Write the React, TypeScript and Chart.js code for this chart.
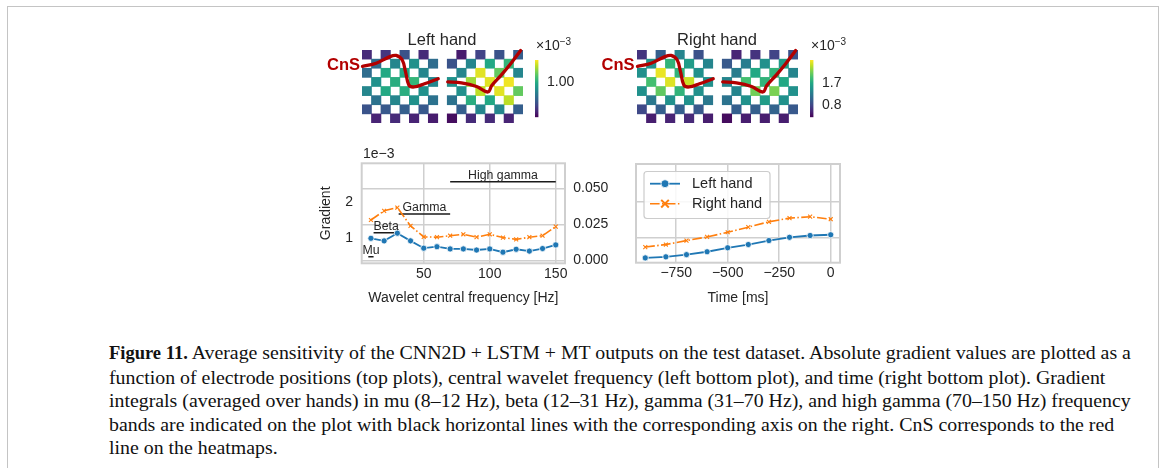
import React, { useEffect, useRef } from 'react';
import { Chart, registerables } from 'chart.js';

Chart.register(...registerables);

const SANS = '"Liberation Sans", Arial, Helvetica, sans-serif';
const SERIF = '"Liberation Serif", "Times New Roman", serif';
const INK = '#262626';
const GRID = '#cfcfcf';
const BLUE = '#1f77b4';
const ORANGE = '#ff7f0e';
const CNS_RED = '#b20000';

// ---------- heatmaps: gradient (x10^-3), 8 rows x 4 electrodes per implant (checkerboard) ----------
const LEFT_HAND_IMPLANT_A = [
  [0.56, 0.59, 0.68, 0.56],
  [0.77, 0.86, 0.9, 0.77],
  [0.77, 0.99, 0.99, 0.86],
  [0.9, 1.01, 1.04, 0.86],
  [0.86, 0.99, 1.01, 0.9],
  [0.79, 0.86, 0.9, 0.79],
  [0.68, 0.7, 0.72, 0.7],
  [0.54, 0.56, 0.54, 0.52],
];
const LEFT_HAND_IMPLANT_B = [
  [0.52, 0.63, 0.68, 0.72],
  [0.68, 0.86, 0.99, 1.04],
  [0.86, 1.31, 1.13, 0.86],
  [0.9, 1.22, 1.31, 1.33],
  [0.9, 1.26, 1.31, 1.13],
  [0.79, 1.01, 0.99, 1.26],
  [0.72, 0.86, 0.86, 0.72],
  [0.48, 0.56, 0.56, 0.54],
];
const RIGHT_HAND_IMPLANT_A = [
  [0.66, 1.01, 1.36, 0.89],
  [1.48, 1.82, 1.59, 1.36],
  [1.48, 2.57, 1.82, 1.48],
  [1.94, 2.52, 2.45, 1.48],
  [1.48, 2.06, 1.82, 1.48],
  [1.24, 1.48, 1.48, 1.24],
  [0.82, 1.01, 1.01, 0.96],
  [0.5, 0.54, 0.59, 0.5],
];
const RIGHT_HAND_IMPLANT_B = [
  [0.54, 0.66, 0.78, 0.89],
  [0.96, 1.29, 1.48, 1.59],
  [1.29, 1.71, 1.82, 1.36],
  [1.36, 1.94, 1.82, 1.71],
  [1.36, 2.13, 2.17, 1.48],
  [1.2, 1.48, 1.59, 1.48],
  [1.01, 1.01, 1.06, 0.96],
  [0.38, 0.5, 0.5, 0.5],
];
const LEFT_HAND_RANGE = [0.45, 1.35];
const RIGHT_HAND_RANGE = [0.31, 2.64];
const LEFT_HAND_CBAR_TICKS = [1.0];
const RIGHT_HAND_CBAR_TICKS = [0.8, 1.7];

// central sulcus (CnS) path, in electrode-grid units
const CNS_A_X = [0.05, 1.5, 2.9, 3.6, 4.25, 4.6, 4.95, 5.5, 6.6, 8.05];
const CNS_A_Y = [1.8, 1.45, 0.75, 0.6, 1.1, 2.4, 3.85, 4.05, 3.7, 3.15];
const CNS_B_X = [9.05, 10.5, 12.1, 13.3, 13.7, 14.7, 15.7, 16.75];
const CNS_B_Y = [3.5, 3.6, 4.0, 4.6, 3.9, 2.75, 1.5, 0.05];

// ---------- gradient vs wavelet central frequency (x10^-3) ----------
const FREQS = [10, 20, 30, 40, 50, 60, 70, 80, 90, 100, 110, 120, 130, 140, 150];
const FREQ_LEFT_HAND = [1.0, 0.93, 1.14, 0.93, 0.73, 0.77, 0.71, 0.71, 0.68, 0.71, 0.62, 0.7, 0.65, 0.72, 0.82];
const FREQ_RIGHT_HAND = [1.5, 1.75, 1.84, 1.34, 1.04, 1.03, 1.07, 1.11, 1.03, 1.11, 1.02, 0.97, 1.03, 1.07, 1.32];

// frequency-band integrals (right axis)
const BAND_NAMES = ['Mu', 'Beta', 'Gamma', 'High gamma'];
const BAND_FROM = [8, 12, 31, 70];
const BAND_TO = [12, 31, 70, 150];
const BAND_VALUES = [0.0025, 0.0192, 0.0322, 0.0546];

// ---------- gradient vs time (x10^-3) ----------
const TIMES = [-900, -800, -700, -600, -500, -400, -300, -200, -100, 0];
const TIME_LEFT_HAND = [0.45, 0.48, 0.54, 0.62, 0.73, 0.82, 0.93, 1.02, 1.07, 1.09];
const TIME_RIGHT_HAND = [0.75, 0.82, 0.93, 1.03, 1.16, 1.3, 1.45, 1.55, 1.59, 1.52];

// ---------- ticks ----------
const FREQ_TICKS = [50, 100, 150];
const TIME_TICKS = [-750, -500, -250, 0];
const GRADIENT_TICKS = [1, 2];
const BAND_AXIS_TICKS = [0, 0.025, 0.05];

const CAPTION_LINES = [
  ' Average sensitivity of the CNN2D + LSTM + MT outputs on the test dataset. Absolute gradient values are plotted as a',
  'function of electrode positions (top plots), central wavelet frequency (left bottom plot), and time (right bottom plot). Gradient',
  'integrals (averaged over hands) in mu (8–12 Hz), beta (12–31 Hz), gamma (31–70 Hz), and high gamma (70–150 Hz) frequency',
  'bands are indicated on the plot with black horizontal lines with the corresponding axis on the right. CnS corresponds to the red',
  'line on the heatmaps.',
];

const VIRIDIS = ['#440154', '#482475', '#414487', '#355f8d', '#2a788e', '#21918c', '#22a884', '#44bf70', '#7ad151', '#bddf26', '#fde725'];

function hexToRgb(h: string) {
  return [parseInt(h.slice(1, 3), 16), parseInt(h.slice(3, 5), 16), parseInt(h.slice(5, 7), 16)];
}
function viridis(t: number) {
  const c = Math.max(0, Math.min(1, t)) * 10;
  const i = Math.min(9, Math.floor(c));
  const f = c - i;
  const a = hexToRgb(VIRIDIS[i]);
  const b = hexToRgb(VIRIDIS[i + 1]);
  const m = a.map((v, k) => Math.round(v + (b[k] - v) * f));
  return `rgb(${m[0]},${m[1]},${m[2]})`;
}

const minus = (v: number) => (v < 0 ? '\u2212' + Math.abs(v) : String(v));

const framePlugin = {
  id: 'frame',
  beforeDatasetsDraw(chart: any) {
    const { ctx, chartArea: a } = chart;
    ctx.save();
    ctx.strokeStyle = GRID;
    ctx.lineWidth = 2;
    ctx.strokeRect(a.left, a.top, a.right - a.left, a.bottom - a.top);
    ctx.restore();
  },
};

const bandLabelPlugin = {
  id: 'bandLabels',
  afterDatasetsDraw(chart: any) {
    const { ctx } = chart;
    const xs = chart.scales.x;
    const ys = chart.scales.y2;
    ctx.save();
    ctx.font = `12.3px ${SANS}`;
    ctx.fillStyle = INK;
    ctx.textAlign = 'center';
    ctx.textBaseline = 'alphabetic';
    BAND_NAMES.forEach((name, i) => {
      const cx = xs.getPixelForValue((BAND_FROM[i] + BAND_TO[i]) / 2);
      const y = ys.getPixelForValue(BAND_VALUES[i]);
      ctx.fillText(name, cx, y - 2.5);
    });
    ctx.restore();
  },
};

function drawMarker(ctx: any, ds: any, x: number, y: number, r: number) {
  ctx.save();
  if (ds.pointStyle === 'crossRot') {
    ctx.strokeStyle = ds.borderColor;
    ctx.lineWidth = 2;
    ctx.beginPath();
    ctx.moveTo(x - r, y - r);
    ctx.lineTo(x + r, y + r);
    ctx.moveTo(x - r, y + r);
    ctx.lineTo(x + r, y - r);
    ctx.stroke();
  } else {
    ctx.fillStyle = ds.borderColor;
    ctx.strokeStyle = '#ffffff';
    ctx.lineWidth = 0.8;
    ctx.beginPath();
    ctx.arc(x, y, r, 0, Math.PI * 2);
    ctx.fill();
    ctx.stroke();
  }
  ctx.restore();
}

const insideLegendPlugin = {
  id: 'insideLegend',
  afterDraw(chart: any) {
    const { ctx, chartArea: a } = chart;
    const x0 = a.left + 8;
    const y0 = a.top + 7.5;
    const w = 126;
    const h = 47;
    ctx.save();
    ctx.beginPath();
    if (ctx.roundRect) ctx.roundRect(x0, y0, w, h, 3);
    else ctx.rect(x0, y0, w, h);
    ctx.fillStyle = 'rgba(255,255,255,0.85)';
    ctx.fill();
    ctx.strokeStyle = '#cccccc';
    ctx.lineWidth = 1.2;
    ctx.stroke();
    chart.data.datasets.forEach((ds: any, i: number) => {
      const y = y0 + 12.2 + i * 20;
      ctx.setLineDash(ds.borderDash || []);
      ctx.strokeStyle = ds.borderColor;
      ctx.lineWidth = ds.borderWidth;
      ctx.beginPath();
      ctx.moveTo(x0 + 6, y);
      ctx.lineTo(x0 + 36, y);
      ctx.stroke();
      ctx.setLineDash([]);
      drawMarker(ctx, ds, x0 + 21, y, ds.pointStyle === 'crossRot' ? 3.8 : 4);
      ctx.fillStyle = INK;
      ctx.font = `14.5px ${SANS}`;
      ctx.textBaseline = 'middle';
      ctx.textAlign = 'left';
      ctx.fillText(ds.label, x0 + 48, y);
    });
    ctx.restore();
  },
};

function heatmapConfig(gridA: number[][], gridB: number[][], range: number[], padding: any) {
  const cellX: number[] = [];
  const cellRow: number[] = [];
  const colors: string[] = [];
  const add = (grid: number[][], offset: number, parity: number) =>
    grid.forEach((row, r) =>
      row.forEach((v, k) => {
        const c = 2 * k + ((r + parity) % 2);
        cellX.push(offset + c + 0.5);
        cellRow.push(r);
        colors.push(viridis((v - range[0]) / (range[1] - range[0])));
      })
    );
  add(gridA, 0, 0);
  add(gridB, 9, 1);
  const line = (xs: number[], ys: number[]) => ({
    type: 'line',
    data: xs.map((x, i) => ({ x, y: ys[i] })),
    borderColor: CNS_RED,
    borderWidth: 3.3,
    pointRadius: 0,
    tension: 0.35,
    clip: false,
    order: 1,
    borderCapStyle: 'round',
  });
  return {
    type: 'bar',
    data: {
      datasets: [
        {
          type: 'bar',
          data: cellX.map((x, i) => ({ x, y: [cellRow[i], cellRow[i] + 1] })),
          backgroundColor: colors,
          borderWidth: 0,
          barPercentage: 1,
          categoryPercentage: 1,
          order: 2,
        },
        line(CNS_A_X, CNS_A_Y),
        line(CNS_B_X, CNS_B_Y),
      ],
    },
    options: {
      responsive: false,
      animation: false,
      devicePixelRatio: 1,
      layout: { padding },
      plugins: { legend: { display: false }, tooltip: { enabled: false }, title: { display: false } },
      scales: {
        x: { type: 'linear', min: 0, max: 17, offset: false, display: false, ticks: { stepSize: 1 } },
        y: { type: 'linear', min: 0, max: 8, reverse: true, display: false },
      },
    },
  };
}

function colorbarConfig(range: number[], ticks: number[], decimals: number) {
  return {
    type: 'bar',
    data: {
      labels: [''],
      datasets: [
        {
          data: [[range[0], range[1]]],
          backgroundColor: (c: any) => {
            const a = c.chart.chartArea;
            if (!a) return VIRIDIS[5];
            const g = c.chart.ctx.createLinearGradient(0, a.bottom, 0, a.top);
            VIRIDIS.forEach((col, i) => g.addColorStop(i / 10, col));
            return g;
          },
          borderWidth: 0,
          barPercentage: 1,
          categoryPercentage: 1,
        },
      ],
    },
    options: {
      responsive: false,
      animation: false,
      devicePixelRatio: 1,
      layout: { padding: { left: 5, top: 5, right: 0, bottom: 5.7 } },
      plugins: { legend: { display: false }, tooltip: { enabled: false } },
      scales: {
        x: { display: false },
        y: {
          position: 'right',
          min: range[0],
          max: range[1],
          grid: { display: false, drawTicks: false },
          border: { display: false },
          ticks: {
            padding: 8.5,
            color: INK,
            font: { family: SANS, size: 14 },
            callback: (v: number) => v.toFixed(decimals),
          },
          afterBuildTicks: (s: any) => {
            s.ticks = ticks.map((v) => ({ value: v }));
          },
          afterFit: (s: any) => {
            s.width = 51.5;
            s.paddingTop = 0;
            s.paddingBottom = 0;
          },
        },
      },
    },
  };
}

const tickFont = { family: SANS, size: 14 };
const titleFont = { family: SANS, size: 14 };

function frequencyConfig() {
  const bands = BAND_NAMES.map((name, i) => ({
    type: 'line',
    label: name,
    data: [
      { x: BAND_FROM[i], y: BAND_VALUES[i] },
      { x: BAND_TO[i], y: BAND_VALUES[i] },
    ],
    yAxisID: 'y2',
    borderColor: '#1a1a1a',
    borderWidth: 1.5,
    pointRadius: 0,
  }));
  return {
    type: 'line',
    data: {
      datasets: [
        {
          label: 'Left hand',
          data: FREQS.map((x, i) => ({ x, y: FREQ_LEFT_HAND[i] })),
          yAxisID: 'y',
          borderColor: BLUE,
          backgroundColor: BLUE,
          borderWidth: 1.8,
          pointRadius: 3.1,
          pointBackgroundColor: BLUE,
          pointBorderColor: '#ffffff',
          pointBorderWidth: 0.8,
        },
        {
          label: 'Right hand',
          data: FREQS.map((x, i) => ({ x, y: FREQ_RIGHT_HAND[i] })),
          yAxisID: 'y',
          borderColor: ORANGE,
          backgroundColor: ORANGE,
          borderWidth: 1.6,
          borderDash: [9.6, 2.4, 1.5, 2.4],
          pointStyle: 'crossRot',
          pointRadius: 2.8,
          pointBorderColor: ORANGE,
          pointBorderWidth: 1.1,
        },
        ...bands,
      ],
    },
    plugins: [framePlugin, bandLabelPlugin],
    options: {
      responsive: false,
      animation: false,
      devicePixelRatio: 1,
      layout: { padding: { left: 0, right: 0, top: 23.3, bottom: 0 } },
      plugins: { legend: { display: false }, tooltip: { enabled: false } },
      scales: {
        x: {
          type: 'linear',
          min: 3,
          max: 157,
          grid: { color: GRID, lineWidth: 1.5, drawTicks: false },
          border: { display: false },
          ticks: { padding: 2.3, color: INK, font: tickFont, callback: (v: number) => minus(v) },
          afterBuildTicks: (s: any) => {
            s.ticks = FREQ_TICKS.map((v) => ({ value: v }));
          },
          title: { display: true, text: 'Wavelet central frequency [Hz]', color: INK, font: titleFont, padding: { top: 0, bottom: 3.6 } },
          afterFit: (s: any) => {
            s.height = 46.7;
          },
        },
        y: {
          type: 'linear',
          position: 'left',
          min: 0.317,
          max: 3.049,
          grid: { display: false, drawTicks: false },
          border: { display: false },
          ticks: { padding: 8.7, color: INK, font: tickFont },
          afterBuildTicks: (s: any) => {
            s.ticks = GRADIENT_TICKS.map((v) => ({ value: v }));
          },
          title: { display: true, text: 'Gradient', color: INK, font: titleFont, padding: { top: 18.1, bottom: 0 } },
          afterFit: (s: any) => {
            s.width = 61.7;
          },
        },
        y2: {
          type: 'linear',
          position: 'right',
          min: -0.0021,
          max: 0.0674,
          grid: { color: GRID, lineWidth: 1.5, drawTicks: false },
          border: { display: false },
          ticks: { padding: 8.3, color: INK, font: tickFont, callback: (v: number) => v.toFixed(3) },
          afterBuildTicks: (s: any) => {
            s.ticks = BAND_AXIS_TICKS.map((v) => ({ value: v }));
          },
          afterFit: (s: any) => {
            s.width = 65;
          },
        },
      },
    },
  };
}

function timeConfig() {
  return {
    type: 'line',
    data: {
      datasets: [
        {
          label: 'Left hand',
          data: TIMES.map((x, i) => ({ x, y: TIME_LEFT_HAND[i] })),
          borderColor: BLUE,
          backgroundColor: BLUE,
          borderWidth: 1.8,
          pointRadius: 3.1,
          pointBackgroundColor: BLUE,
          pointBorderColor: '#ffffff',
          pointBorderWidth: 0.8,
        },
        {
          label: 'Right hand',
          data: TIMES.map((x, i) => ({ x, y: TIME_RIGHT_HAND[i] })),
          borderColor: ORANGE,
          backgroundColor: ORANGE,
          borderWidth: 1.6,
          borderDash: [9.6, 2.4, 1.5, 2.4],
          pointStyle: 'crossRot',
          pointRadius: 2.8,
          pointBorderColor: ORANGE,
          pointBorderWidth: 1.1,
        },
      ],
    },
    plugins: [framePlugin, insideLegendPlugin],
    options: {
      responsive: false,
      animation: false,
      devicePixelRatio: 1,
      layout: { padding: { left: 0, right: 20, top: 24, bottom: 0 } },
      plugins: { legend: { display: false }, tooltip: { enabled: false } },
      scales: {
        x: {
          type: 'linear',
          min: -945,
          max: 45,
          grid: { color: GRID, lineWidth: 1.5, drawTicks: false },
          border: { display: false },
          ticks: { padding: 2.3, color: INK, font: tickFont, callback: (v: number) => minus(v) },
          afterBuildTicks: (s: any) => {
            s.ticks = TIME_TICKS.map((v) => ({ value: v }));
          },
          title: { display: true, text: 'Time [ms]', color: INK, font: titleFont, padding: { top: 0, bottom: 3.6 } },
          afterFit: (s: any) => {
            s.height = 47.3;
          },
        },
        y: {
          type: 'linear',
          min: 0.317,
          max: 3.049,
          grid: { color: GRID, lineWidth: 1.5, drawTicks: false },
          border: { display: false },
          ticks: { display: false },
          afterBuildTicks: (s: any) => {
            s.ticks = GRADIENT_TICKS.map((v) => ({ value: v }));
          },
          afterFit: (s: any) => {
            s.width = 36;
          },
        },
      },
    },
  };
}

function ChartCanvas({ left, top, width, height, make }: any) {
  const ref = useRef<HTMLCanvasElement | null>(null);
  useEffect(() => {
    const chart = new Chart(ref.current as HTMLCanvasElement, make());
    return () => chart.destroy();
  }, []);
  return (
    <canvas
      ref={ref}
      width={width}
      height={height}
      style={{ position: 'absolute', left, top, width, height }}
    />
  );
}

const label = (extra: any) => ({
  position: 'absolute' as const,
  fontFamily: SANS,
  color: INK,
  whiteSpace: 'nowrap' as const,
  ...extra,
});

export default function App() {
  return (
    <div style={{ position: 'absolute', left: 0, top: 0, width: 1167, height: 468, overflow: 'hidden', background: '#fff' }}>
      <div
        style={{
          position: 'absolute',
          left: 7,
          top: 6,
          width: 1150,
          height: 480,
          border: '1.5px solid #c4c4c4',
          borderBottom: 'none',
        }}
      />

      {/* heatmaps */}
      <ChartCanvas left={355} top={45} width={175} height={82}
        make={() => heatmapConfig(LEFT_HAND_IMPLANT_A, LEFT_HAND_IMPLANT_B, LEFT_HAND_RANGE, { left: 7, top: 5, right: 7, bottom: 4 })} />
      <ChartCanvas left={630} top={45} width={175} height={82}
        make={() => heatmapConfig(RIGHT_HAND_IMPLANT_A, RIGHT_HAND_IMPLANT_B, RIGHT_HAND_RANGE, { left: 7, top: 5, right: 7, bottom: 4 })} />
      <ChartCanvas left={530} top={55} width={60} height={68}
        make={() => colorbarConfig(LEFT_HAND_RANGE, LEFT_HAND_CBAR_TICKS, 2)} />
      <ChartCanvas left={804.5} top={55} width={60} height={68}
        make={() => colorbarConfig(RIGHT_HAND_RANGE, RIGHT_HAND_CBAR_TICKS, 1)} />

      <div style={label({ left: 342, top: 31, width: 200, textAlign: 'center', fontSize: 16.5, lineHeight: '17px' })}>Left hand</div>
      <div style={label({ left: 617, top: 31, width: 200, textAlign: 'center', fontSize: 16.5, lineHeight: '17px' })}>Right hand</div>
      <div style={label({ left: 327, top: 55.5, fontSize: 16.5, lineHeight: '17px', fontWeight: 'bold', color: CNS_RED })}>CnS</div>
      <div style={label({ left: 601.5, top: 55.5, fontSize: 16.5, lineHeight: '17px', fontWeight: 'bold', color: CNS_RED })}>CnS</div>
      <div style={label({ left: 536, top: 37, fontSize: 14, lineHeight: '16px' })}>
        ×10<sup style={{ fontSize: 10, verticalAlign: 'top', position: 'relative', top: -3 }}>−3</sup>
      </div>
      <div style={label({ left: 811, top: 37, fontSize: 14, lineHeight: '16px' })}>
        ×10<sup style={{ fontSize: 10, verticalAlign: 'top', position: 'relative', top: -3 }}>−3</sup>
      </div>

      {/* line plots */}
      <ChartCanvas left={300} top={140} width={330} height={170} make={frequencyConfig} />
      <ChartCanvas left={600} top={140} width={260} height={170} make={timeConfig} />
      <div style={label({ left: 363, top: 145, fontSize: 14, lineHeight: '16px' })}>1e−3</div>

      {/* caption */}
      <div
        style={{
          position: 'absolute',
          left: 109,
          top: 341,
          fontFamily: SERIF,
          fontSize: 19.85,
          lineHeight: '23.5px',
          color: '#111',
          whiteSpace: 'nowrap',
        }}
      >
        {CAPTION_LINES.map((l, i) => (
          <div key={i}>
            {i === 0 ? <b style={{ fontSize: 18.5 }}>Figure 11.</b> : null}
            {l}
          </div>
        ))}
      </div>
    </div>
  );
}
